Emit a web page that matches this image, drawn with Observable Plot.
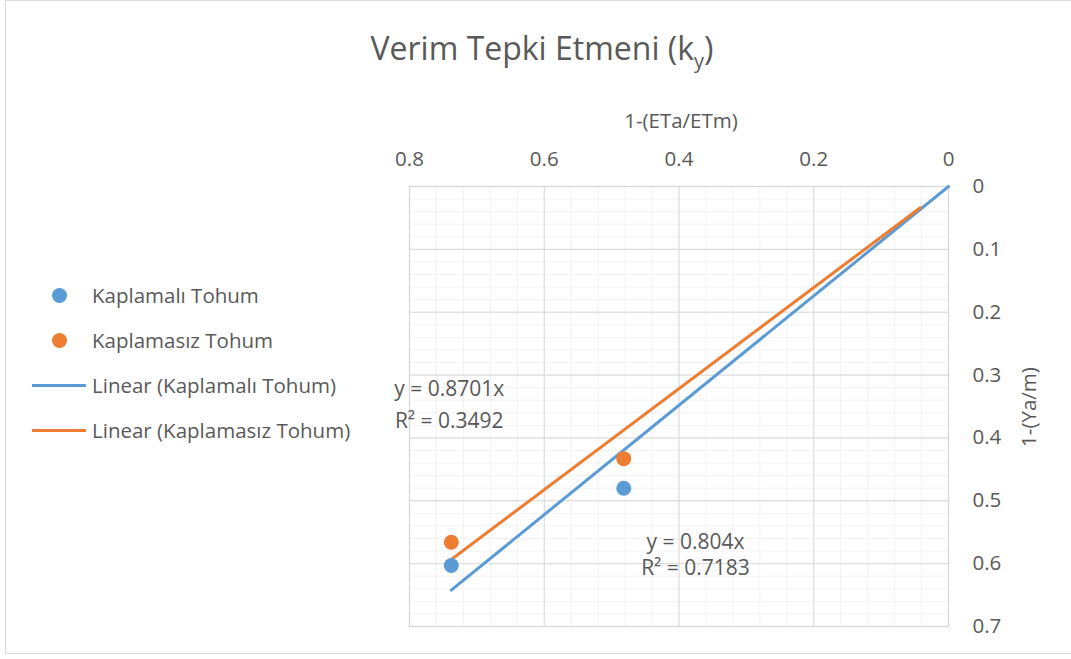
<!DOCTYPE html>
<html>
<head>
<meta charset="utf-8">
<script src="https://cdn.jsdelivr.net/npm/d3@7"></script>
<script src="https://cdn.jsdelivr.net/npm/@observablehq/plot@0.6"></script>
<style>
  html, body { margin: 0; padding: 0; background: #fff; }
  #wrap { position: relative; width: 1071px; height: 659px; overflow: hidden; font-family: "Open Sans", sans-serif; color: #595959; }
  #border { position: absolute; left: 5px; top: 0; width: 1080px; height: 654px; border-left: 1px solid #d9d9d9; border-top: 1px solid #d9d9d9; border-bottom: 1px solid #d9d9d9; box-sizing: border-box; }
  #chart { position: absolute; left: 0; top: 0; }
  .abs { position: absolute; white-space: nowrap; }
  #title { left: 542px; top: 47px; transform: translate(-50%, -50%); font-size: 32px; }
  #title sub { font-size: 20px; vertical-align: -8px; line-height: 0; }
  #xtitle { left: 681px; top: 120px; transform: translate(-50%, -50%); font-size: 20.5px; }
  #ytitle { left: 1028px; top: 407px; transform: translate(-50%, -50%) rotate(-90deg); font-size: 20.5px; }
  #legend { left: 30px; top: 280px; font-size: 20.5px; }
  .item { position: absolute; left: 0; height: 30px; display: flex; align-items: center; }
  .sym { width: 58px; display: flex; align-items: center; justify-content: center; margin-right: 4px; }
  .dot { width: 15px; height: 15px; border-radius: 50%; }
  .seg { width: 54px; height: 3px; }
</style>
</head>
<body>
<div id="wrap">
  <div id="border"></div>
  <div id="chart"></div>
  <div class="abs" id="title">Verim Tepki Etmeni (k<sub>y</sub>)</div>
  <div class="abs" id="xtitle"></div>
  <div class="abs" id="ytitle"></div>
  <div class="abs" id="legend"></div>
</div>
<script>
// ---- data ----
const seriesNames = ["Kaplamalı Tohum", "Kaplamasız Tohum"];
const seriesColors = ["#5B9BD5", "#ED7D31"];
const kaplamaliX = [0.738, 0.482];
const kaplamaliY = [0.603, 0.480];
const kaplamasizX = [0.738, 0.482];
const kaplamasizY = [0.566, 0.433];
const trendSlopes = [0.8701, 0.804];
const trendR2 = [0.3492, 0.7183];
const trendXStart = [0, 0.042];
const trendXEnd = [0.738, 0.738];
const xTicks = [0, 0.2, 0.4, 0.6, 0.8];
const yTicks = [0, 0.1, 0.2, 0.3, 0.4, 0.5, 0.6, 0.7];
const xTitle = "1-(ETa/ETm)";
const yTitle = "1-(Ya/m)";

// ---- build tables ----
const points = [];
kaplamaliX.forEach((x, i) => points.push({series: seriesNames[0], x, y: kaplamaliY[i]}));
kaplamasizX.forEach((x, i) => points.push({series: seriesNames[1], x, y: kaplamasizY[i]}));

const trend = [];
seriesNames.forEach((s, i) => {
  [trendXStart[i], trendXEnd[i]].forEach(x => trend.push({series: s, x, y: trendSlopes[i] * x}));
});

const minorX = d3.range(0, 0.8001, 0.04).map(v => +v.toFixed(2));
const minorY = d3.range(0, 0.7001, 0.02).map(v => +v.toFixed(2));

const eqLabels = [
  {text: `y = ${trendSlopes[0]}x`, x: 0.741, y: 0.322},
  {text: `R² = ${trendR2[0]}`, x: 0.741, y: 0.373},
  {text: `y = ${trendSlopes[1]}x`, x: 0.3755, y: 0.566},
  {text: `R² = ${trendR2[1]}`, x: 0.3755, y: 0.607}
];

const color = {domain: seriesNames, range: seriesColors};
const fmt = d => `${d}`;

const chart = Plot.plot({
  width: 1071,
  height: 659,
  marginLeft: 409,
  marginRight: 123,
  marginTop: 186,
  marginBottom: 33,
  style: {fontFamily: "Open Sans, sans-serif", color: "#595959", background: "transparent", overflow: "visible"},
  x: {domain: [0, 0.8], reverse: true},
  y: {domain: [0, 0.7], reverse: true},
  color,
  marks: [
    Plot.gridX(minorX, {stroke: "#f2f2f2", strokeOpacity: 1, strokeWidth: 1}),
    Plot.gridY(minorY, {stroke: "#f2f2f2", strokeOpacity: 1, strokeWidth: 1}),
    Plot.gridX(xTicks, {stroke: "#d9d9d9", strokeOpacity: 1, strokeWidth: 1}),
    Plot.gridY(yTicks, {stroke: "#d9d9d9", strokeOpacity: 1, strokeWidth: 1}),
    Plot.frame({stroke: "#d9d9d9", strokeWidth: 1.3}),
    Plot.axisX(xTicks, {anchor: "top", tickSize: 0, tickPadding: 21, tickFormat: fmt, fontSize: 20.5, fill: "#595959", label: null}),
    Plot.axisY(yTicks, {anchor: "right", tickSize: 0, tickPadding: 24, tickFormat: fmt, fontSize: 20.5, fill: "#595959", label: null}),
    Plot.line(trend, {x: "x", y: "y", z: "series", stroke: d => d.series, strokeWidth: 3, strokeLinecap: "round"}),
    Plot.dot(points, {x: "x", y: "y", fill: d => d.series, r: 7.5}),
    Plot.text(eqLabels, {x: "x", y: "y", text: "text", textAnchor: "middle", fontSize: 21, fill: "#595959"})
  ]
});
document.getElementById("chart").appendChild(chart);

document.getElementById("xtitle").textContent = xTitle;
document.getElementById("ytitle").textContent = yTitle;

// legend
const legend = document.getElementById("legend");
const legendItems = [
  {label: seriesNames[0], kind: "dot", color: seriesColors[0]},
  {label: seriesNames[1], kind: "dot", color: seriesColors[1]},
  {label: `Linear (${seriesNames[0]})`, kind: "seg", color: seriesColors[0]},
  {label: `Linear (${seriesNames[1]})`, kind: "seg", color: seriesColors[1]}
];
legendItems.forEach((it, i) => {
  const row = document.createElement("div");
  row.className = "item";
  row.style.top = (i * 45) + "px";
  const sym = document.createElement("div");
  sym.className = "sym";
  const mark = document.createElement("div");
  mark.className = it.kind;
  mark.style.background = it.color;
  sym.appendChild(mark);
  const lab = document.createElement("span");
  lab.textContent = it.label;
  row.appendChild(sym);
  row.appendChild(lab);
  legend.appendChild(row);
});
</script>
</body>
</html>
